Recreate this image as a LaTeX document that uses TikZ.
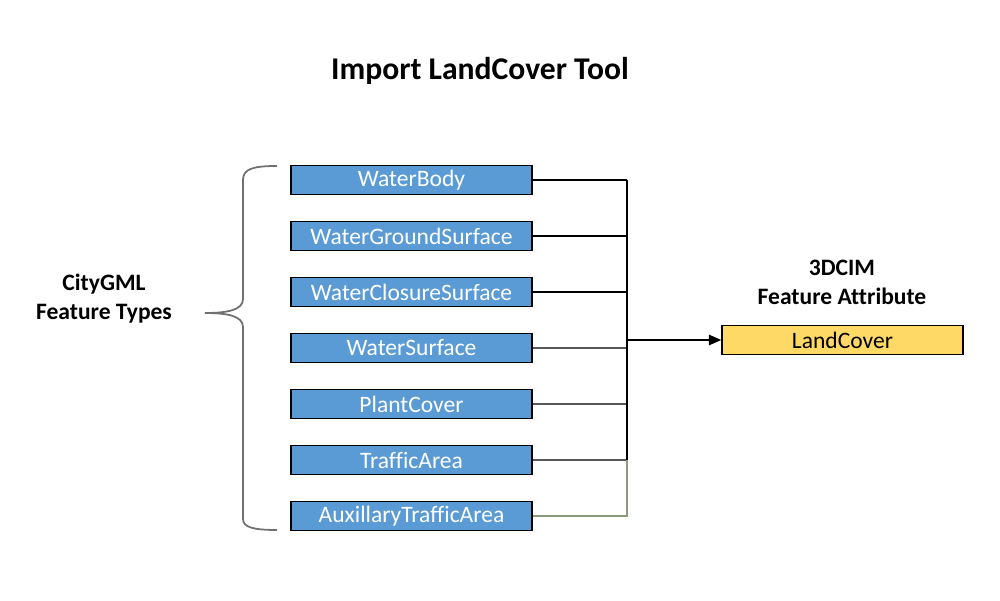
\documentclass[tikz,border=0pt]{standalone}
\usepackage{fontspec}
\setmainfont{Carlito}[Ligatures=NoCommon]
\usetikzlibrary{positioning, arrows.meta, calc}
\definecolor{ftblue}{HTML}{5B9BD5}
\definecolor{attyellow}{HTML}{FFD966}
\definecolor{bracegray}{HTML}{707070}
\definecolor{linkolive}{HTML}{8A9C78}

\begin{document}
\begin{tikzpicture}[font=\fontsize{13.4}{16.4}\selectfont,
    ft/.style={draw=black, fill=ftblue, text=white, inner sep=0pt, line width=0.9pt,
               minimum width=4.82cm, minimum height=0.58cm},
    att/.style={draw=black, fill=attyellow, text=black, inner sep=0pt, line width=0.9pt,
                minimum width=4.82cm, minimum height=0.58cm},
    link/.style={draw=black, line width=0.6pt}]
    \useasboundingbox (0,0) rectangle (20,12);
    \node (title) at (9.6,10.58) {\fontsize{18}{22}\selectfont\bfseries Import LandCover Tool};
    \node[align=center, font=\fontsize{13.4}{16.4}\selectfont\bfseries] (citygml) at (2.08,6.03) {CityGML\\ Feature Types};
    \node[align=center, font=\fontsize{13.4}{16.4}\selectfont\bfseries] (cim) at (16.84,6.36) {3DCIM\\ Feature Attribute};
    % feature type boxes
    \node[ft] (wb)  at (8.23,8.40) {WaterBody};
    \node[ft] (wgs) at (8.23,7.28) {WaterGroundSurface};
    \node[ft] (wcs) at (8.23,6.16) {WaterClosureSurface};
    \node[ft] (ws)  at (8.23,5.04) {WaterSurface};
    \node[ft] (pc)  at (8.23,3.92) {PlantCover};
    \node[ft] (ta)  at (8.23,2.80) {TrafficArea};
    \node[ft] (ata) at (8.23,1.68) {AuxillaryTrafficArea};
    \node[att] (lc) at (16.85,5.20) {LandCover};
    % collecting line
    \coordinate (top) at (12.54,8.40);
    \coordinate (mid) at (12.54,5.20);
    \coordinate (low) at (12.54,2.80);
    \coordinate (bot) at (12.54,1.68);
    \foreach \n in {wb,wgs,wcs}
      \draw[link] (\n.east) -- (\n.east -| top);
    \foreach \n in {ws,pc,ta}
      \draw[link, draw=black!65] (\n.east) -- (\n.east -| top);
    \draw[link, draw=linkolive] (ata.east) -- (bot) -- (low);
    \draw[link] (top) -- (low);
    \draw[link, -{Triangle[length=7pt, width=6pt]}] (mid) -- (lc.west);
    % brace
    \draw[bracegray, line width=1pt] (5.54,8.68) .. controls (5.05,8.68) and (4.86,8.62) .. (4.86,8.40)
      -- (4.86,6.02) .. controls (4.86,5.80) and (4.55,5.74) .. (4.10,5.74)
      .. controls (4.55,5.74) and (4.86,5.68) .. (4.86,5.46)
      -- (4.86,1.62) .. controls (4.86,1.46) and (5.05,1.40) .. (5.54,1.40);
\end{tikzpicture}
\end{document}
